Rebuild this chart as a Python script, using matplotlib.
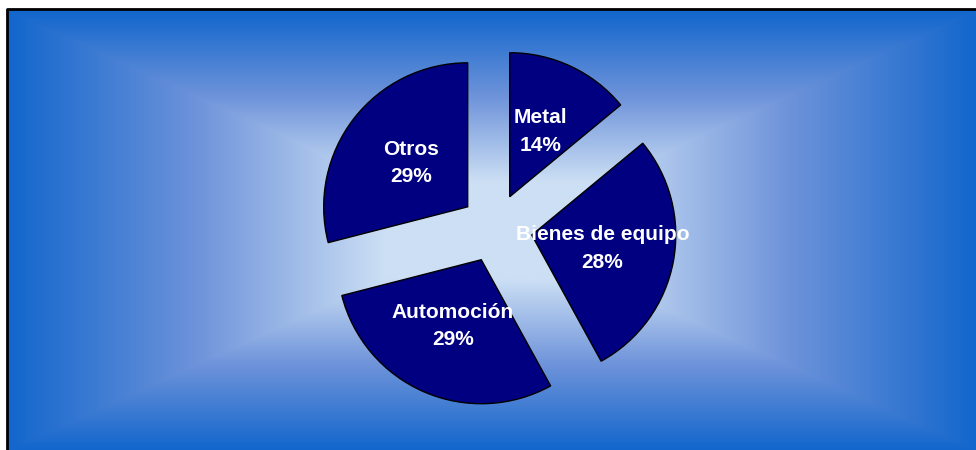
import numpy as np
import matplotlib
matplotlib.use("Agg")
import matplotlib.pyplot as plt
from matplotlib.colors import LinearSegmentedColormap

# ---- data ----
categories = ["Metal", "Bienes de equipo", "Automoción", "Otros"]
shares = [14, 28, 29, 29]
explode = [0.24, 0.26, 0.24, 0.24]

W, H = 976, 450
fig = plt.figure(figsize=(W / 100, H / 100), dpi=100)
fig.patch.set_facecolor("white")
ax = fig.add_axes([0, 0, 1, 1])

# pixel <-> data mapping (1 data unit = pie radius)
S = 144.0
CX, CY = 495.0, 228.0
def X(px):
    return (px - CX) / S
def Y(py):
    return (CY - py) / S

ax.set_xlim(X(0), X(W))
ax.set_ylim(Y(H), Y(0))

# ---- background: rectangular "from centre" gradient ----
x0, x1, y0, y1 = 7, 978, 10, 451
gx = np.linspace(x0, x1, 600)
gy = np.linspace(y0, y1, 300)
PX, PY = np.meshgrid(gx, gy)
mx, my = (x0 + x1) / 2, (y0 + y1) / 2
t = np.maximum(np.abs(PX - mx) / ((x1 - x0) / 2), np.abs(PY - my) / ((y1 - y0) / 2))
s = 1 - t
f = np.clip(s / 0.78, 0, 1)
cmap = LinearSegmentedColormap.from_list(
    "bg", [(0.0, "#1266CC"), (0.5, "#6E93DA"), (1.0, "#CCDFF4")])
ax.imshow(f, cmap=cmap, vmin=0, vmax=1, extent=(X(x0), X(x1), Y(y1), Y(y0)),
          origin="upper", interpolation="bilinear", aspect="auto", zorder=0)

# border (top and left visible)
ax.plot([X(6.5), X(6.5), X(W + 5)], [Y(H + 5), Y(8.8), Y(8.8)],
        color="black", lw=2.0, solid_capstyle="projecting", zorder=1, clip_on=False)

# ---- pie ----
labels = [f"{c}\n{v}%" for c, v in zip(categories, shares)]
wedges, texts = ax.pie(
    shares, labels=labels, explode=explode, startangle=90, counterclock=False,
    colors=["#000080"] * len(shares), radius=1.0, center=(0, 0),
    labeldistance=0.5, frame=True,
    wedgeprops=dict(edgecolor="black", linewidth=1.0),
    textprops=dict(color="white", fontsize=15, fontweight="bold",
                   family=["Liberation Sans", "DejaVu Sans"], linespacing=1.55))
for tx in texts:
    tx.set_horizontalalignment("center")
    tx.set_verticalalignment("center")
    tx.set_zorder(5)
for w in wedges:
    w.set_zorder(3)

ax.set_xlim(X(0), X(W))
ax.set_ylim(Y(H), Y(0))
ax.set_aspect("auto")
ax.axis("off")

fig.savefig("out.png", dpi=100)
